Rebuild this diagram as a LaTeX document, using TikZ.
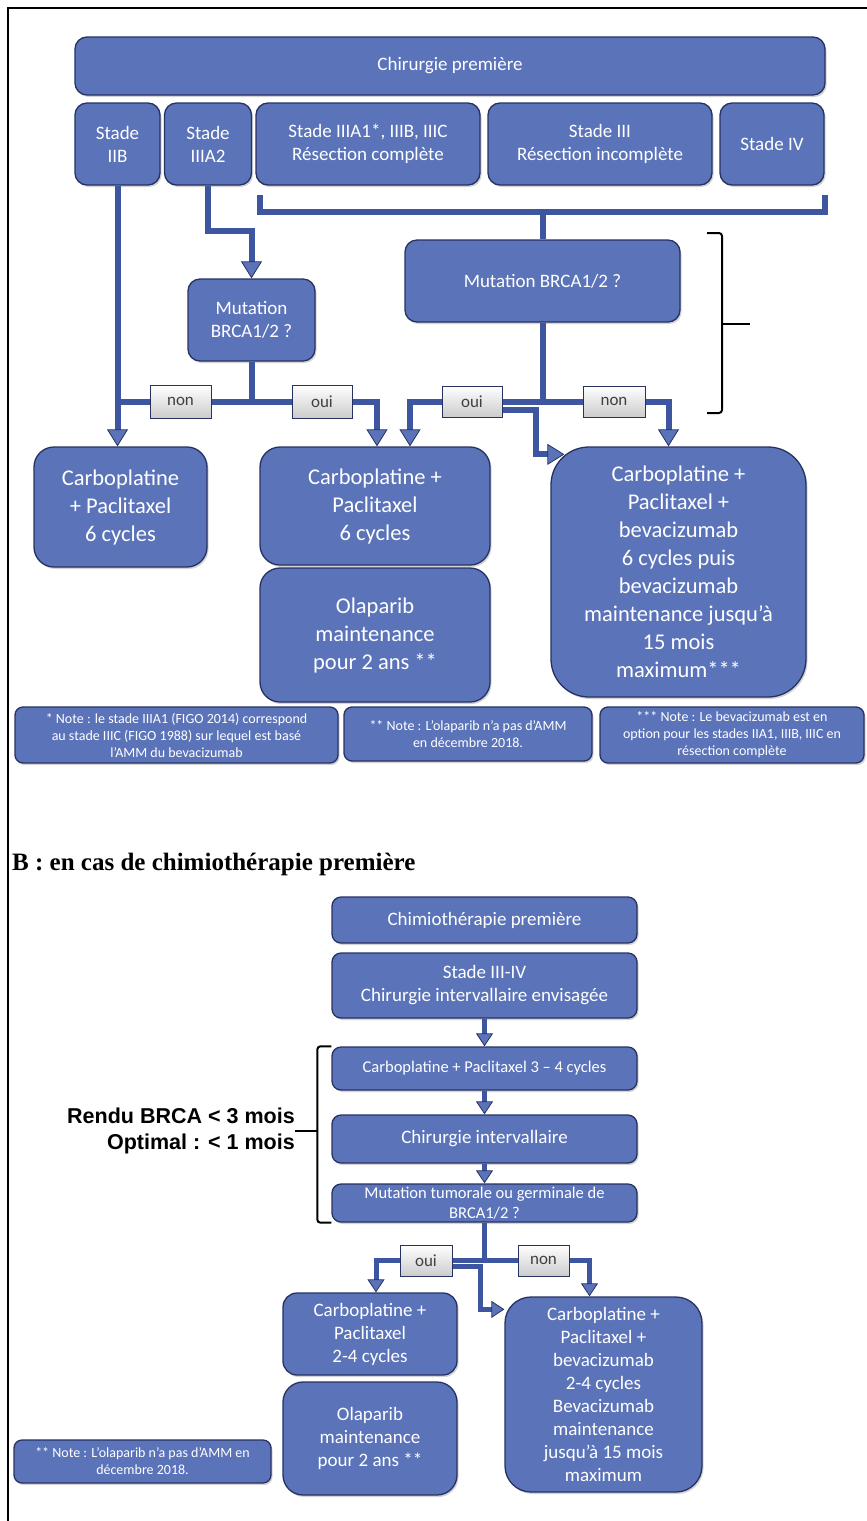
\documentclass[tikz,border=0pt]{standalone}
\usepackage{fontspec}
\setmainfont{Carlito}
\newfontfamily\serifhead{Liberation Serif}
\newfontfamily\arialbold{Liberation Sans}
\usepackage{xcolor}
\usepackage{tikz}
\usetikzlibrary{arrows.meta}
\usetikzlibrary{shadows}
\definecolor{boxblue}{RGB}{91,115,185}
\definecolor{boxedge}{RGB}{38,50,98}
\definecolor{flowblue}{RGB}{62,86,160}

\begin{document}
\begin{tikzpicture}[x=1pt,y=-1pt,
    box/.style={draw=boxedge,line width=1.3pt,fill=boxblue,text=white,align=center,
      rounded corners=12pt,inner sep=2pt,
      drop shadow={shadow xshift=1.5pt,shadow yshift=-2pt,opacity=0.35}},
    txtbig/.style={font=\fontsize{22.5}{28}\selectfont},
    txtmid/.style={font=\fontsize{19}{23}\selectfont},
    txtsmall/.style={font=\fontsize{16.5}{20}\selectfont},
    notebox/.style={box,rounded corners=8pt,font=\fontsize{14}{17}\selectfont},
    choice/.style={draw=boxedge,line width=1pt,top color=white,bottom color=black!20,
      text=black!75,inner sep=0pt,font=\fontsize{17}{20}\selectfont},
    flow/.style={draw=flowblue,line width=6pt},
    flowsm/.style={draw=flowblue,line width=5pt},
    arrow/.style={-{Triangle[length=17pt,width=21pt,line width=0.8pt,color=boxedge,fill=boxblue]}},
    arrowsm/.style={-{Triangle[length=13pt,width=17pt,line width=0.8pt,color=boxedge,fill=boxblue]}},
    bracket/.style={draw=black,line width=2pt,rounded corners=3pt}]
    \useasboundingbox (0,0) rectangle (867,1521);
    \draw[line width=1.3pt] (8,1521) -- (8,8) -- (867,8);
    % A : chirurgie premiere
    \node[box,txtmid,minimum width=750pt,minimum height=58pt] (chir) at (450,66) {Chirurgie première};
    \node[box,txtmid,minimum width=85pt,minimum height=82pt] (iib) at (117.5,144) {Stade\\IIB};
    \node[box,txtmid,minimum width=87pt,minimum height=82pt] (iiia2) at (208,144) {Stade\\IIIA2};
    \node[box,txtmid,minimum width=224pt,minimum height=82pt] (iiia1) at (368,144) {Stade IIIA1*, IIIB, IIIC\\Résection complète};
    \node[box,txtmid,minimum width=224pt,minimum height=82pt] (iii) at (600,144) {Stade III\\Résection incomplète};
    \node[box,txtmid,minimum width=104pt,minimum height=82pt] (iv) at (772,144) {Stade IV};
    \node[box,txtmid,minimum width=127pt,minimum height=82pt] (mutA) at (251.5,320) {Mutation\\BRCA1/2 ?};
    \node[box,txtmid,minimum width=275pt,minimum height=82pt] (mutB) at (542.5,281) {Mutation BRCA1/2 ?};
    \node[choice,minimum width=61pt,minimum height=33pt] (nonA1) at (180.5,401.5) {non};
    \node[choice,minimum width=60pt,minimum height=33pt] (ouiA1) at (322,401.5) {oui};
    \node[choice,minimum width=60pt,minimum height=31pt] (ouiA2) at (472,401.5) {oui};
    \node[choice,minimum width=62pt,minimum height=31pt] (nonA2) at (614,401.5) {non};
    \node[box,txtbig,rounded corners=20pt,minimum width=173pt,minimum height=120pt] (carbA1) at (120.5,507) {Carboplatine\\+ Paclitaxel\\6 cycles};
    \node[box,txtbig,rounded corners=20pt,minimum width=230pt,minimum height=118pt] (carbA2) at (375,506) {Carboplatine +\\Paclitaxel\\6 cycles};
    \node[box,txtbig,rounded corners=20pt,minimum width=230pt,minimum height=134pt] (olaA) at (375,635) {Olaparib\\maintenance\\pour 2 ans **};
    \node[box,txtbig,rounded corners=38pt,minimum width=255pt,minimum height=250pt] (bevA) at (678.5,572) {Carboplatine +\\Paclitaxel +\\bevacizumab\\6 cycles puis\\bevacizumab\\maintenance jusqu’à\\15 mois\\maximum***};
    \node[notebox,minimum width=323pt,minimum height=56pt] (noteA1) at (176.5,735) {* Note : le stade IIIA1 (FIGO 2014) correspond\\au stade IIIC (FIGO 1988) sur lequel est basé\\l’AMM du bevacizumab};
    \node[notebox,minimum width=248pt,minimum height=54pt] (noteA2) at (468,734) {** Note : L’olaparib n’a pas d’AMM\\en décembre 2018.};
    \node[notebox,minimum width=264pt,minimum height=56pt] (noteA3) at (732,735) {*** Note : Le bevacizumab est en\\option pour les stades IIA1, IIIB, IIIC en\\résection complète};
    % liaisons A
    \draw[flow,arrow] (iib.south) -- (iib.south |- carbA1.north);
    \draw[flow,arrow] (iiia2.south) -- ++(0,45) -| (mutA.north);
    \coordinate (brL) at (260,195);
    \coordinate (brR) at (825,195);
    \draw[flow] (brL) -- ++(0,17) -| (brR);
    \draw[flow] (mutB.north) -- ++(0,-30);
    \draw[flow] (mutA.south) |- (nonA1.east);
    \draw[flow] (nonA1.west) -- (nonA1.west -| iib.south);
    \draw[flow] (mutA.south) |- (ouiA1.west);
    \draw[flow,arrow] (ouiA1.east) -| ([xshift=2pt]carbA2.north);
    \draw[flow] (mutB.south) |- (ouiA2.east);
    \draw[flow,arrow] (ouiA2.west) -| ([xshift=35pt]carbA2.north);
    \draw[flow] (mutB.south) |- (nonA2.west);
    \draw[flow,arrow] (nonA2.east) -| ([xshift=-10pt]bevA.north);
    \draw[flow,arrow] ([yshift=-8pt]ouiA2.east) -- ++(33,0) |- ([xshift=14pt,yshift=-8pt]bevA.north west);
    \draw[bracket] (707,233) -| (722,324) |- (707,413);
    \draw[bracket] (722,324) -- (750,324);
    % B : chimiotherapie premiere
    \node[anchor=base west,inner sep=0pt,font=\serifhead\bfseries\fontsize{25}{30}\selectfont] (titleB) at (12,870) {B : en cas de chimiothérapie première};
    \node[box,txtmid,rounded corners=9pt,minimum width=305pt,minimum height=46pt] (chimio) at (484.5,920) {Chimiothérapie première};
    \node[box,txtmid,rounded corners=9pt,minimum width=305pt,minimum height=65pt] (stadeB) at (484.5,985.5) {Stade III-IV\\Chirurgie intervallaire envisagée};
    \node[box,txtsmall,rounded corners=9pt,minimum width=305pt,minimum height=43pt] (carbB) at (484.5,1068.5) {Carboplatine + Paclitaxel 3 -- 4 cycles};
    \node[box,txtmid,rounded corners=9pt,minimum width=305pt,minimum height=48pt] (chirB) at (484.5,1139) {Chirurgie intervallaire};
    \node[box,txtsmall,rounded corners=9pt,inner ysep=0pt,minimum width=305pt,minimum height=38pt] (mutC) at (484.5,1203) {Mutation tumorale ou germinale de\\BRCA1/2 ?};
    \node[choice,minimum width=52pt,minimum height=31pt] (ouiB) at (426,1260.5) {oui};
    \node[choice,minimum width=51pt,minimum height=31pt] (nonB) at (543.5,1260.5) {non};
    \node[box,txtmid,rounded corners=14pt,minimum width=174pt,minimum height=82pt] (carbB2) at (370,1334) {Carboplatine +\\Paclitaxel\\2-4 cycles};
    \node[box,txtmid,rounded corners=20pt,minimum width=174pt,minimum height=113pt] (olaB) at (370,1438.5) {Olaparib\\maintenance\\pour 2 ans **};
    \node[box,txtmid,rounded corners=26pt,minimum width=197pt,minimum height=195pt] (bevB) at (603.5,1394.5) {Carboplatine +\\Paclitaxel +\\bevacizumab\\2-4 cycles\\Bevacizumab\\maintenance\\jusqu’à 15 mois\\maximum};
    \node[notebox,minimum width=257pt,minimum height=43pt] (noteB) at (142.5,1461.5) {** Note : L’olaparib n’a pas d’AMM en\\décembre 2018.};
    \node[anchor=east,align=right,inner sep=0pt,font=\arialbold\bfseries\fontsize{21.5}{26}\selectfont] (rendu) at (295,1131) {Rendu BRCA < 3 mois\\Optimal : < 1 mois};
    % liaisons B
    \draw[flowsm,arrowsm] (stadeB) -- (carbB);
    \draw[flowsm,arrowsm] (carbB) -- (chirB);
    \draw[flowsm,arrowsm] (chirB) -- (mutC);
    \draw[flowsm] (mutC.south) |- (ouiB.east);
    \draw[flowsm] (mutC.south) |- (nonB.west);
    \draw[flowsm,arrowsm] (ouiB.west) -| ([xshift=6pt]carbB2.north);
    \draw[flowsm,arrowsm] (nonB.east) -| ([xshift=-14pt]bevB.north);
    \draw[flowsm,arrowsm] ([yshift=-6pt]ouiB.east) -- ++(28,0) |- ([yshift=-13pt]bevB.north west);
    \draw[bracket] (carbB.north west) -- ++(-14,0) |- (mutC.south west);
    \draw[bracket] (rendu.east) -- ++(23,0);
\end{tikzpicture}
\end{document}
